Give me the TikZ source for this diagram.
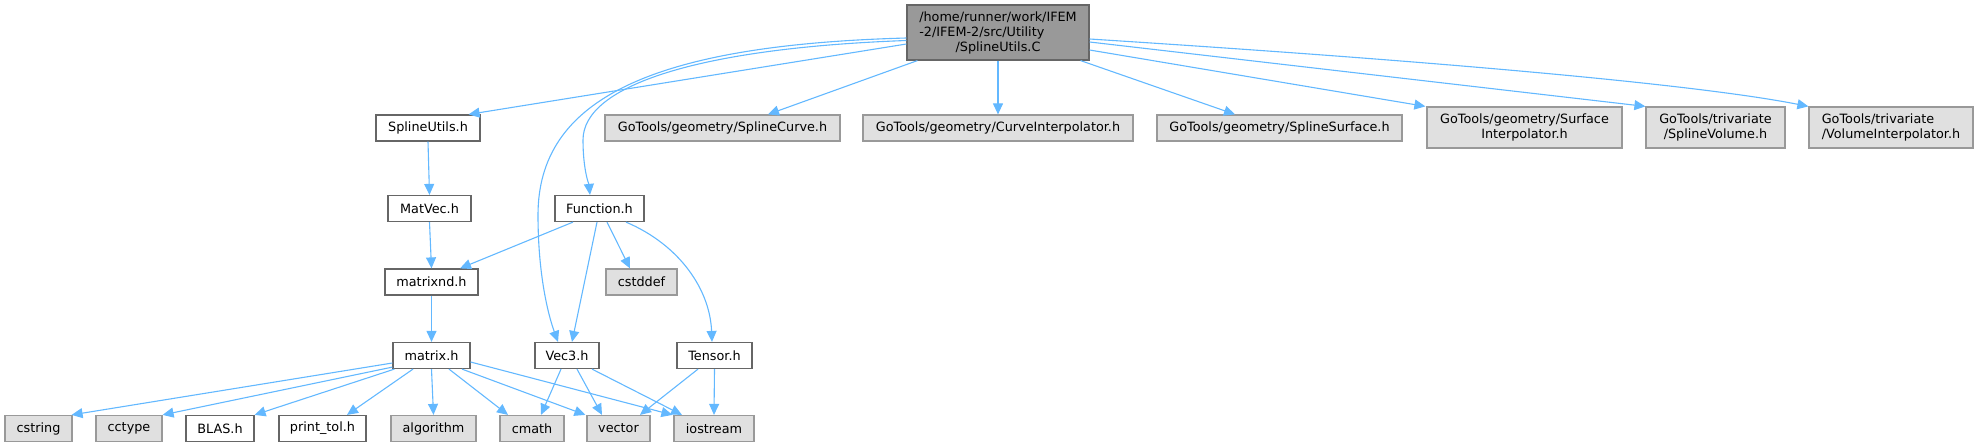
\documentclass[tikz,border=0pt]{standalone}
\usepackage{fontspec}
\usepackage{calc}
\setmainfont{DejaVu Sans}
\usetikzlibrary{arrows.meta,calc}
\definecolor{edgeblue}{HTML}{63B8FF}
\definecolor{gfill}{HTML}{E0E0E0}
\definecolor{gborder}{HTML}{999999}
\definecolor{wborder}{HTML}{666666}
\definecolor{mfill}{HTML}{999999}
\tikzset{
  box/.style={rectangle, inner sep=0pt, line width=1.2pt, align=center,
    font=\fontsize{12.8}{15}\selectfont, text=black},
  wnode/.style={box, draw=wborder, fill=white},
  gnode/.style={box, draw=gborder, fill=gfill},
  mnode/.style={box, draw=wborder, fill=mfill},
  e/.style={draw=edgeblue, line width=1.1pt, -{Triangle[length=11pt,width=10pt]}},
}
\begin{document}
\begin{tikzpicture}[x=1pt,y=-1pt]
\useasboundingbox (0,0) rectangle (1975,447);
% nodes
\node[mnode, minimum width=182, minimum height=55] (main) at (998,32.5)
  {/home/runner/work/IFEM\\\makebox[\widthof{/home/runner/work/IFEM}][l]{-2/IFEM-2/src/Utility}\\/SplineUtils.C};
\node[wnode, minimum width=104, minimum height=26] (splh) at (428,128) {SplineUtils.h};
\node[gnode, minimum width=235, minimum height=26] (scurve) at (722.5,128) {GoTools/geometry/SplineCurve.h};
\node[gnode, minimum width=270, minimum height=26] (cinterp) at (998,128) {GoTools/geometry/CurveInterpolator.h};
\node[gnode, minimum width=245, minimum height=26] (ssurf) at (1279.5,128) {GoTools/geometry/SplineSurface.h};
\node[gnode, minimum width=195, minimum height=41] (sinterp) at (1524.5,127.5) {GoTools/geometry/Surface\\Interpolator.h};
\node[gnode, minimum width=139, minimum height=41] (svol) at (1715.5,127.5) {GoTools/trivariate\\/SplineVolume.h};
\node[gnode, minimum width=164, minimum height=41] (vinterp) at (1891,127.5)
  {\makebox[\widthof{/VolumeInterpolator.h}][l]{GoTools/trivariate}\\/VolumeInterpolator.h};
\node[wnode, minimum width=83, minimum height=26] (matvec) at (429.5,208.5) {MatVec.h};
\node[wnode, minimum width=89, minimum height=26] (func) at (599.5,208.5) {Function.h};
\node[wnode, minimum width=93, minimum height=26] (matrixnd) at (431.5,282) {matrixnd.h};
\node[gnode, minimum width=71, minimum height=26] (cstddef) at (641.5,282) {cstddef};
\node[wnode, minimum width=77, minimum height=26] (matrix) at (431.5,355.5) {matrix.h};
\node[wnode, minimum width=64, minimum height=26] (vec3) at (567,355.5) {Vec3.h};
\node[wnode, minimum width=75, minimum height=26] (tensor) at (714.5,355.5) {Tensor.h};
\node[gnode, minimum width=67, minimum height=26] (cstring) at (38.5,428.5) {cstring};
\node[gnode, minimum width=66, minimum height=26] (cctype) at (129,428.5) {cctype};
\node[wnode, minimum width=68, minimum height=26] (blas) at (220,428.5) {BLAS.h};
\node[wnode, minimum width=87, minimum height=26] (printtol) at (322.5,428.5) {print\_tol.h};
\node[gnode, minimum width=85, minimum height=26] (algorithm) at (433.5,428.5) {algorithm};
\node[gnode, minimum width=64, minimum height=26] (cmath) at (532,428.5) {cmath};
\node[gnode, minimum width=63, minimum height=26] (vector) at (618.5,428.5) {vector};
\node[gnode, minimum width=80, minimum height=26] (iostream) at (714,428.5) {iostream};
% edges from main
\draw[e] ($(main.west)+(0,11.5)$) -- ($(splh.north east)+(-12,0)$);
\draw[e] ($(main.west)+(0,5.5)$) .. controls (650,45) and (538,100) .. (538,215)
  .. controls (538,280) and (550,320) .. ($(vec3.north)+(-9,0)$);
\draw[e] ($(main.west)+(0,8)$) .. controls (700,48) and (583,85) .. (583,140)
  .. controls (583,170) and (589,185) .. ($(func.north)+(-9.5,0)$);
\draw[e] ($(main.south west)+(11,0)$) -- ($(scurve.north)+(45.5,0)$);
\draw[e] (main.south) -- (cinterp.north);
\draw[e] ($(main.south east)+(-9,0)$) -- ($(ssurf.north)+(-44.5,0)$);
\draw[e] ($(main.east)+(0,17.5)$) -- ($(sinterp.north west)+(-1,0)$);
\draw[e] ($(main.east)+(0,9.5)$) -- (svol.north west);
\draw[e] ($(main.east)+(0,6.5)$) .. controls (1450,62) and (1700,85) .. (vinterp.north west);
% chain
\draw[e] (splh.south) -- (matvec.north);
\draw[e] (matvec.south) -- (matrixnd.north);
\draw[e] (matrixnd.south) -- (matrix.north);
% Function.h
\draw[e] ($(func.south)+(-26.5,0)$) -- ($(matrixnd.north)+(28.5,0)$);
\draw[e] ($(func.south)+(-2.5,0)$) -- ($(vec3.north)+(5,0)$);
\draw[e] ($(func.south)+(7.5,0)$) -- ($(cstddef.north)+(-11.5,0)$);
\draw[e] ($(func.south)+(26.5,0)$) .. controls (680,245) and (710,290) .. ($(tensor.north)+(-2.5,0)$);
% matrix.h
\draw[e] ($(matrix.west)+(0,7.5)$) -- ($(cstring.north east)+(-1,0)$);
\draw[e] ($(matrix.south west)+(0,-2)$) -- (cctype.north east);
\draw[e] ($(matrix.south west)+(2,0)$) -- (blas.north east);
\draw[e] ($(matrix.south)+(-18.5,0)$) -- ($(printtol.north)+(24.5,0)$);
\draw[e] (matrix.south) -- (algorithm.north);
\draw[e] ($(matrix.south)+(17.5,0)$) -- ($(cmath.north)+(-24,0)$);
\draw[e] ($(matrix.south)+(30.5,0)$) -- ($(vector.north west)+(-1,0)$);
\draw[e] ($(matrix.east)+(0,6.5)$) -- ($(iostream.north west)+(-1,0)$);
% Vec3.h
\draw[e] ($(vec3.south)+(-6,0)$) -- ($(cmath.north)+(9,0)$);
\draw[e] ($(vec3.south)+(10,0)$) -- ($(vector.north)+(-16.5,0)$);
\draw[e] ($(vec3.south)+(25,0)$) -- ($(iostream.north)+(-32,0)$);
% Tensor.h
\draw[e] ($(tensor.south)+(-16.5,0)$) -- ($(vector.north)+(21.5,0)$);
\draw[e] (tensor.south) -- (iostream.north);
\end{tikzpicture}
\end{document}
